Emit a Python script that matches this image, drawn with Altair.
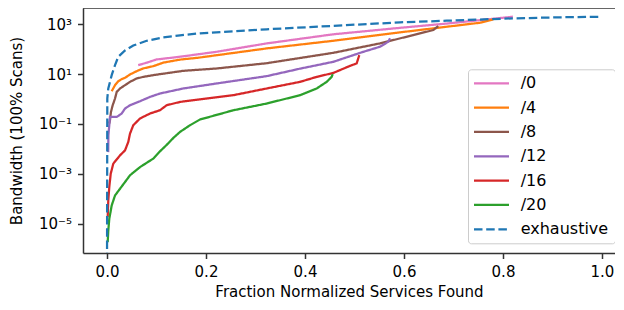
import altair as alt
import pandas as pd

series_names = ["/0", "/4", "/8", "/12", "/16", "/20", "exhaustive"]
series_colors = ["#e377c2", "#ff7f0e", "#8c564b", "#9467bd", "#d62728", "#2ca02c", "#1f77b4"]

x_0 = [0.063, 0.080, 0.100, 0.148, 0.185, 0.222, 0.323, 0.457, 0.592, 0.686, 0.720, 0.820]
y_0 = [22.9, 28.8, 38.9, 50.1, 63.1, 79.4, 172, 398, 724, 1072, 1259, 2023]

x_4 = [0.0095, 0.0162, 0.0228, 0.0297, 0.0364, 0.0465, 0.060, 0.0733, 0.0935, 0.1137,
       0.1475, 0.1845, 0.3226, 0.4572, 0.5853, 0.6863, 0.7535, 0.7804]
y_4 = [2.07, 3.61, 5.22, 6.31, 7.10, 9.73, 13.2, 17.0, 20.9, 29.0,
       38.4, 45.7, 108, 219, 459, 800, 1159, 1585]

x_8 = [0.0046, 0.006, 0.008, 0.0115, 0.0162, 0.0196, 0.0263, 0.0364, 0.0465, 0.060, 0.0733,
       0.0935, 0.107, 0.1541, 0.2216, 0.3226, 0.4572, 0.5515, 0.6188, 0.6592, 0.6693]
y_8 = [0.104, 0.141, 0.304, 0.566, 1.05, 1.94, 2.66, 3.61, 4.90, 6.71, 7.78,
       9.12, 10.0, 13.6, 16.9, 27.5, 71.9, 172, 371, 589, 851]

x_12 = [0.0024, 0.0028, 0.0046, 0.006, 0.0196, 0.0297, 0.0364, 0.0465, 0.0667, 0.0869,
        0.107, 0.1541, 0.2216, 0.3226, 0.3899, 0.4572, 0.5178, 0.5515, 0.5683, 0.5717]
y_12 = [0.00741, 0.0351, 0.0891, 0.191, 0.191, 0.263, 0.417, 0.566, 0.820, 1.22,
        1.67, 2.66, 4.23, 8.32, 16.6, 31.3, 78.9, 126, 200, 274]

x_16 = [0.0014, 0.0026, 0.0046, 0.0075, 0.0127, 0.0263, 0.0364, 0.043, 0.0465, 0.0531,
        0.0667, 0.0869, 0.107, 0.1206, 0.1475, 0.1845, 0.2552, 0.3226, 0.3899, 0.4236,
        0.4572, 0.4909, 0.5044, 0.5097]
y_16 = [1.81e-5, 8.51e-5, 2.92e-4, 1.01e-3, 2.55e-3, 5.50e-3, 8.71e-3, 0.0191, 0.0411, 0.0891,
        0.166, 0.263, 0.356, 0.566, 0.767, 0.959, 1.43, 2.66, 4.90, 7.76,
        11.2, 21.5, 26.9, 58.2]

x_20 = [0.0014, 0.0026, 0.0046, 0.0095, 0.0162, 0.0263, 0.0465, 0.0667, 0.0935, 0.107,
        0.1206, 0.1341, 0.1475, 0.1677, 0.1879, 0.2552, 0.3226, 0.3899, 0.4236, 0.4438,
        0.4539, 0.456]
y_20 = [1.78e-6, 5.25e-6, 1.55e-5, 5.37e-5, 1.35e-4, 2.51e-4, 8.71e-4, 1.86e-3, 4.07e-3, 7.94e-3,
        0.0145, 0.0275, 0.0479, 0.0891, 0.151, 0.355, 0.661, 1.43, 2.66, 4.90,
        7.76, 10.0]

x_ex = [0.0, 0.0006, 0.0026, 0.0095, 0.0162, 0.0228, 0.0364, 0.0531, 0.0802, 0.1137,
        0.1475, 0.1879, 0.3226, 0.4572, 0.5919, 0.6863, 0.8208, 0.9085, 1.0]
y_ex = [1e-7, 1.07, 2.69, 9.12, 22.9, 50.1, 89.1, 141, 219, 302,
        363, 437, 631, 871, 1202, 1396, 1738, 1905, 2023]

x_ticks = [0.0, 0.2, 0.4, 0.6, 0.8, 1.0]
y_ticks = [1e-5, 1e-3, 1e-1, 1e1, 1e3]

rows = []
for name, xs, ys in [("/0", x_0, y_0), ("/4", x_4, y_4), ("/8", x_8, y_8),
                     ("/12", x_12, y_12), ("/16", x_16, y_16), ("/20", x_20, y_20),
                     ("exhaustive", x_ex, y_ex)]:
    for i, (xv, yv) in enumerate(zip(xs, ys)):
        rows.append({"series": name, "frac": xv, "bw": yv, "idx": i})
df = pd.DataFrame(rows)

W, H = 532, 245
FONT = "DejaVu Sans"
AX = "#333333"

x_scale = alt.Scale(domain=[-0.0485, 1.0263], nice=False, zero=False)
y_scale = alt.Scale(type="log", domain=[6.6e-7, 4529], nice=False)

legend = alt.Legend(
    title=None, orient="none", direction="vertical", legendX=385, legendY=61.3,
    symbolType="M-1.6,0H5.4", symbolSize=100, symbolStrokeWidth=2.25,
    labelOffset=30.7, rowPadding=8.33, padding=6,
    labelFontSize=16, labelFont=FONT, labelColor="black",
    strokeColor="#cccccc", cornerRadius=3, fillColor="rgba(255,255,255,0.8)",
)

dash_range = [[1, 0]] * 6 + [[8.5, 3.7]]

enc = dict(
    x=alt.X("frac:Q", scale=x_scale,
            axis=alt.Axis(values=x_ticks, format=".1f",
                          title="Fraction Normalized Services Found",
                          titleBaseline="top", titleY=31.5)),
    y=alt.Y("bw:Q", scale=y_scale,
            axis=alt.Axis(values=y_ticks,
                          labelExpr="datum.value >= 999 ? '10³' : datum.value >= 9 ? '10¹' : datum.value >= 0.09 ? '10⁻¹' : datum.value >= 0.0009 ? '10⁻³' : '10⁻⁵'",
                          title="Bandwidth (100% Scans)",
                          titleAngle=270, titleBaseline="bottom", titleX=-59, titleY=H / 2)),
    color=alt.Color("series:N", scale=alt.Scale(domain=series_names, range=series_colors), legend=legend),
    strokeDash=alt.StrokeDash("series:N", scale=alt.Scale(domain=series_names, range=dash_range), legend=legend),
    order=alt.Order("idx:Q"),
)

subnets = alt.Chart(df[df.series != "exhaustive"]).mark_line(strokeWidth=2.25, clip=True).encode(**enc)
exhaustive = alt.Chart(df[df.series == "exhaustive"]).mark_line(strokeWidth=2.25, clip=True).encode(**enc)

top_spine = alt.Chart(pd.DataFrame({"k": [0]})).mark_rule(color=AX, strokeWidth=1.5).encode(
    x=alt.value(0), x2=alt.value(W), y=alt.value(0)
)

chart = alt.layer(subnets, exhaustive, top_spine).properties(
    width=W, height=H,
    autosize=alt.AutoSizeParams(type="none"),
    padding={"left": 75, "top": 0, "right": 0, "bottom": 49},
).configure_view(stroke=None).configure_axis(
    grid=False, domainColor=AX, domainWidth=1.5, tickColor=AX, tickWidth=1.5, tickSize=5.5,
    labelFont=FONT, labelFontSize=15, labelColor="black", labelPadding=6,
    titleFont=FONT, titleFontSize=15, titleColor="black", titleFontWeight="normal",
)

chart.save("out.html", embed_options={"renderer": "svg", "actions": False})
